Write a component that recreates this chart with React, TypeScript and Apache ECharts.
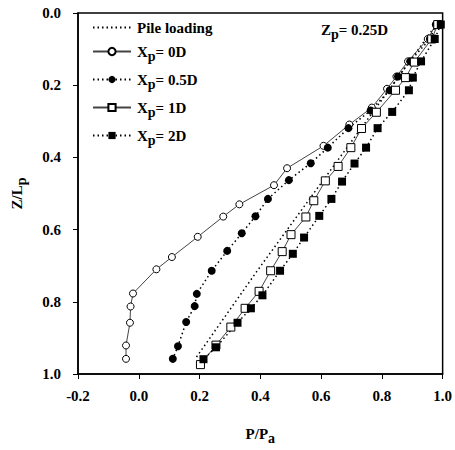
import React, { useEffect, useRef } from 'react';
import * as echarts from 'echarts';

const FONT = "'Liberation Serif', 'Times New Roman', serif";

// Pile loading (dotted line, no markers)
const pileX = [0.19, 0.39, 0.68, 0.823, 0.985];
const pileZ = [0.953, 0.714, 0.379, 0.214, 0.025];

// Xp = 0D
const x0Z = [0.032, 0.072, 0.134, 0.176, 0.21, 0.262, 0.309, 0.368, 0.43, 0.477, 0.53, 0.564, 0.62, 0.676, 0.71, 0.777, 0.813, 0.858, 0.921, 0.958];
const x0P = [0.978, 0.951, 0.886, 0.848, 0.817, 0.767, 0.693, 0.608, 0.488, 0.445, 0.331, 0.278, 0.194, 0.109, 0.058, -0.019, -0.027, -0.029, -0.042, -0.042];

// Xp = 0.5D
const x05Z = [0.032, 0.072, 0.134, 0.176, 0.214, 0.27, 0.319, 0.373, 0.416, 0.463, 0.515, 0.563, 0.61, 0.659, 0.714, 0.778, 0.812, 0.856, 0.923, 0.958];
const x05P = [0.978, 0.958, 0.893, 0.853, 0.826, 0.763, 0.69, 0.622, 0.566, 0.494, 0.425, 0.384, 0.339, 0.291, 0.24, 0.191, 0.184, 0.156, 0.129, 0.112];

// Xp = 1D
const x1Z = [0.032, 0.072, 0.136, 0.179, 0.214, 0.275, 0.32, 0.373, 0.425, 0.465, 0.52, 0.565, 0.614, 0.661, 0.714, 0.771, 0.818, 0.87, 0.92, 0.974];
const x1P = [0.984, 0.964, 0.907, 0.878, 0.845, 0.782, 0.733, 0.698, 0.656, 0.614, 0.576, 0.55, 0.501, 0.472, 0.434, 0.396, 0.35, 0.303, 0.254, 0.203];

// Xp = 2D
const x2Z = [0.032, 0.072, 0.134, 0.179, 0.214, 0.274, 0.319, 0.373, 0.417, 0.467, 0.515, 0.562, 0.622, 0.667, 0.714, 0.782, 0.818, 0.858, 0.926, 0.959];
const x2P = [0.994, 0.974, 0.929, 0.902, 0.889, 0.834, 0.786, 0.748, 0.71, 0.669, 0.634, 0.594, 0.544, 0.507, 0.465, 0.407, 0.369, 0.325, 0.254, 0.213];

const seriesNames = ['Pile loading', 'Xp= 0D', 'Xp= 0.5D', 'Xp= 1D', 'Xp= 2D'];
const legendLabels = ['{a|Pile loading}', '{a|X}{s|p}{a|= 0D}', '{a|X}{s|p}{a|= 0.5D}', '{a|X}{s|p}{a|= 1D}', '{a|X}{s|p}{a|= 2D}'];

const pairs = (xs: number[], zs: number[]) => xs.map((x, i) => [x, zs[i]]);

const rich = {
  a: { fontFamily: FONT, fontWeight: 'bold', fontSize: 15, color: '#000' },
  s: { fontFamily: FONT, fontWeight: 'bold', fontSize: 14, color: '#000', padding: [9, 0, 0, 0] },
};

const DOT: any = [1.5, 3];

export default function App() {
  const ref = useRef<HTMLDivElement>(null);
  useEffect(() => {
    if (!ref.current) return;
    const chart = echarts.init(ref.current, null, { renderer: 'svg' });
    chart.setOption({
      animation: false,
      backgroundColor: '#fff',
      grid: { left: 78, right: 10, top: 13, bottom: 67, show: true, borderColor: '#000', borderWidth: 1.5 },
      legend: {
        orient: 'vertical',
        left: 87,
        top: 15,
        itemWidth: 38,
        itemHeight: 9,
        itemGap: 9,
        data: seriesNames,
        formatter: (name: string) => legendLabels[seriesNames.indexOf(name)],
        textStyle: { rich, padding: [0, 0, 0, 1] },
      },
      graphic: [
        {
          type: 'text',
          left: 321,
          top: 22,
          style: {
            text: '{a|Z}{s|p}{a|= 0.25D}',
            rich,
          },
        },
      ],
      xAxis: {
        type: 'value',
        min: -0.2,
        max: 1.0,
        interval: 0.2,
        name: '{a|P/P}{s|a}',
        nameLocation: 'middle',
        nameGap: 48,
        nameTextStyle: { rich },
        axisLine: { show: true, onZero: false, lineStyle: { color: '#000', width: 1.5 } },
        axisTick: { show: true, inside: false, length: 5, lineStyle: { color: '#000', width: 1 } },
        axisLabel: {
          formatter: (v: number) => v.toFixed(1),
          fontFamily: FONT,
          fontWeight: 'bold',
          fontSize: 15,
          color: '#000',
          margin: 14,
        },
        splitLine: { show: false },
      },
      yAxis: {
        type: 'value',
        inverse: true,
        min: 0,
        max: 1.0,
        interval: 0.2,
        name: '{a|Z/L}{s|p}',
        nameLocation: 'middle',
        nameGap: 50,
        nameTextStyle: { rich },
        axisLine: { show: true, onZero: false, lineStyle: { color: '#000', width: 1.5 } },
        axisTick: { show: true, inside: false, length: 5, lineStyle: { color: '#000', width: 1 } },
        axisLabel: {
          formatter: (v: number) => v.toFixed(1),
          fontFamily: FONT,
          fontWeight: 'bold',
          fontSize: 15,
          color: '#000',
          margin: 17,
        },
        splitLine: { show: false },
      },
      series: [
        {
          name: seriesNames[0],
          type: 'line',
          data: pairs(pileX, pileZ),
          symbol: 'none',
          lineStyle: { color: '#000', width: 1.5, type: DOT },
          itemStyle: { color: 'rgba(0,0,0,0)', borderColor: 'rgba(0,0,0,0)', borderWidth: 0 },
        },
        {
          name: seriesNames[1],
          type: 'line',
          data: pairs(x0P, x0Z),
          symbol: 'circle',
          symbolSize: 7,
          lineStyle: { color: '#444', width: 1, type: 'solid' },
          itemStyle: { color: '#fff', borderColor: '#000', borderWidth: 1 },
        },
        {
          name: seriesNames[2],
          type: 'line',
          data: pairs(x05P, x05Z),
          symbol: 'circle',
          symbolSize: 8,
          lineStyle: { color: '#000', width: 1.5, type: DOT },
          itemStyle: { color: '#000', borderColor: '#000', borderWidth: 0 },
        },
        {
          name: seriesNames[3],
          type: 'line',
          data: pairs(x1P, x1Z),
          symbol: 'rect',
          symbolSize: 8,
          lineStyle: { color: '#444', width: 1, type: 'solid' },
          itemStyle: { color: '#fff', borderColor: '#000', borderWidth: 1 },
        },
        {
          name: seriesNames[4],
          type: 'line',
          data: pairs(x2P, x2Z),
          symbol: 'rect',
          symbolSize: 8,
          lineStyle: { color: '#000', width: 1.5, type: DOT },
          itemStyle: { color: '#000', borderColor: '#000', borderWidth: 0 },
        },
      ],
    });
    return () => chart.dispose();
  }, []);
  return <div ref={ref} style={{ width: 455, height: 450, position: 'absolute', left: 0, top: 0 }} />;
}
